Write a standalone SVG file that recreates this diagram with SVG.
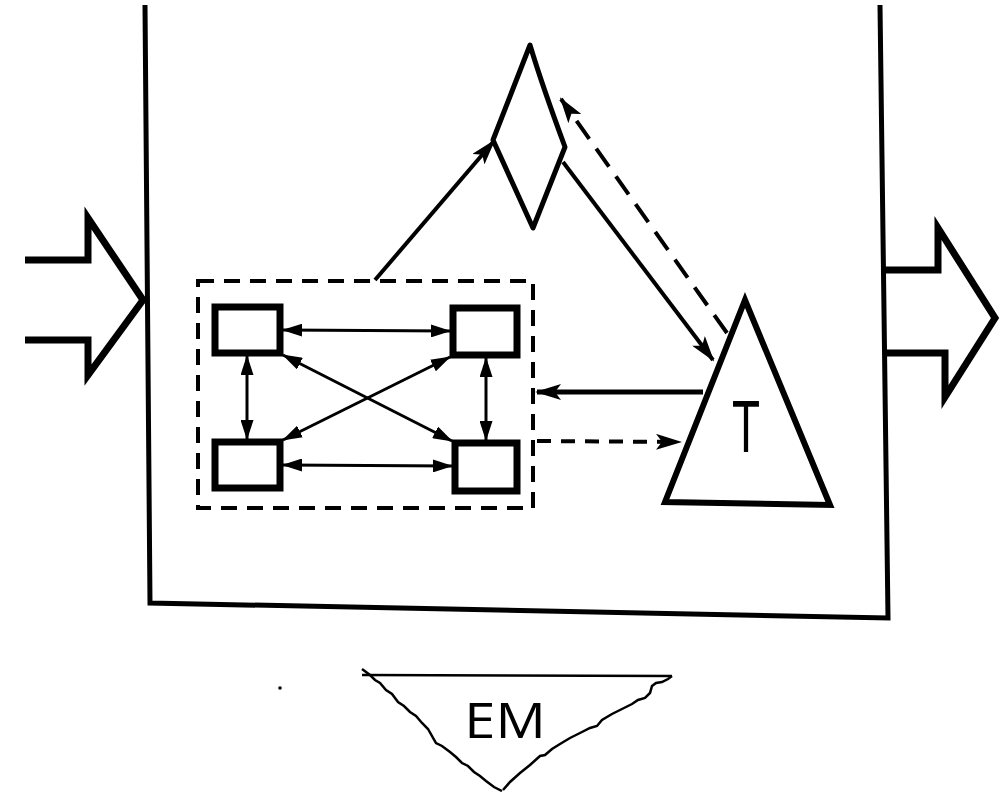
<svg xmlns="http://www.w3.org/2000/svg" width="1001" height="792" viewBox="0 0 1001 792">
<style>
.ln{fill:none;stroke:#000;stroke-linejoin:miter}
.thin{stroke-width:3}
.box{fill:#fff;stroke:#000;stroke-width:7}
.lbl{font-family:"Liberation Sans",Arial,sans-serif;fill:#000}
</style>
<defs>
<marker id="ah" markerUnits="userSpaceOnUse" markerWidth="26" markerHeight="16" refX="24" refY="8" orient="auto-start-reverse" viewBox="0 0 26 16">
<path d="M0,0 L26,8 L0,16 L6,8 z" fill="#000"/>
</marker>
<marker id="as" markerUnits="userSpaceOnUse" markerWidth="20" markerHeight="13" refX="19" refY="6.5" orient="auto-start-reverse" viewBox="0 0 20 13">
<path d="M0,0 L20,6.5 L0,13 z" fill="#000"/>
</marker>
</defs>
<rect width="1001" height="792" fill="#fff"/>

<g id="system-boundary">
<path class="ln" stroke-width="5" d="M145,5 L150,603 L888,618 L880,5"/>
</g>

<g id="input-arrow">
<polyline class="ln" stroke-width="7" points="25,260 88,260 88,218 143,300 88,375 88,340 25,340"/>
</g>

<g id="output-arrow">
<polyline class="ln" stroke-width="7" points="885,270 938,270 938,228 995,318 945,397 945,353 885,353"/>
</g>

<g id="subsystem">
<rect x="198" y="281" width="335" height="227" class="ln" stroke-width="4" stroke-dasharray="16 10"/>
<g id="node-tl"><rect x="215" y="307" width="65" height="46" class="box"/></g>
<g id="node-tr"><rect x="453" y="308" width="64" height="47" class="box"/></g>
<g id="node-bl"><rect x="215" y="442" width="65" height="46" class="box"/></g>
<g id="node-br"><rect x="455" y="443" width="62" height="48" class="box"/></g>
</g>

<g id="diamond">
<path d="M530,45 Q542,85 565,147 L533,228 L493,140 Z" fill="#fff" stroke="#000" stroke-width="5" stroke-linejoin="round"/>
</g>

<g id="triangle">
<polygon points="745,300 665,502 830,505" fill="#fff" stroke="#000" stroke-width="6" stroke-linejoin="miter"/>
<text class="lbl" transform="translate(746,452) scale(0.62,1)" font-size="74" text-anchor="middle">T</text>
</g>

<g id="connectors">
<line class="ln" stroke-width="4" x1="375" y1="280" x2="494" y2="141" marker-end="url(#ah)"/>
<line class="ln" stroke-width="4" x1="563" y1="162" x2="713" y2="360" marker-end="url(#ah)"/>
<line class="ln" stroke-width="4" stroke-dasharray="22 12" x1="727" y1="333" x2="561" y2="99" marker-end="url(#ah)"/>
<line class="ln" stroke-width="5" x1="703" y1="392" x2="537" y2="392" marker-end="url(#ah)"/>
<line class="ln" stroke-width="4" stroke-dasharray="14 10" x1="537" y1="441" x2="680" y2="442" marker-end="url(#ah)"/>
<line class="ln thin" x1="283" y1="330" x2="450" y2="331" marker-start="url(#as)" marker-end="url(#as)"/>
<line class="ln thin" x1="283" y1="465" x2="452" y2="466" marker-start="url(#as)" marker-end="url(#as)"/>
<line class="ln thin" x1="247" y1="356" x2="247" y2="439" marker-start="url(#as)" marker-end="url(#as)"/>
<line class="ln thin" x1="486" y1="358" x2="486" y2="440" marker-start="url(#as)" marker-end="url(#as)"/>
<line class="ln thin" x1="283" y1="355" x2="452" y2="441" marker-start="url(#as)" marker-end="url(#as)"/>
<line class="ln thin" x1="283" y1="440" x2="450" y2="357" marker-start="url(#as)" marker-end="url(#as)"/>
</g>

<g id="em">
<line class="ln" stroke-width="2.5" x1="362" y1="675" x2="672" y2="676"/>
<polyline class="ln" stroke-width="2.5" points="362,669 370,675 375,680 380,683 386,690 392,694 398,702 404,706 410,712 416,716 422,723 428,729 436,743 442,746 450,752 456,757 462,763 468,766 474,772 480,776 486,781 494,787 502,791"/>
<polyline class="ln" stroke-width="2.5" points="672,676 668,679 662,682 656,683 652,686 650,693 645,698 638,700 632,704 622,709 612,714 602,720 597,726 590,728 580,733 570,738 560,744 552,749 545,755 540,756 530,765 520,773 510,782 503,790"/>
<text transform="translate(505,738) scale(1.12,1)" font-family="'Open Sans','Liberation Sans',sans-serif" font-size="50" text-anchor="middle" fill="#000">EM</text>
</g>
<circle cx="280" cy="688" r="1.8" fill="#000"/>
</svg>
